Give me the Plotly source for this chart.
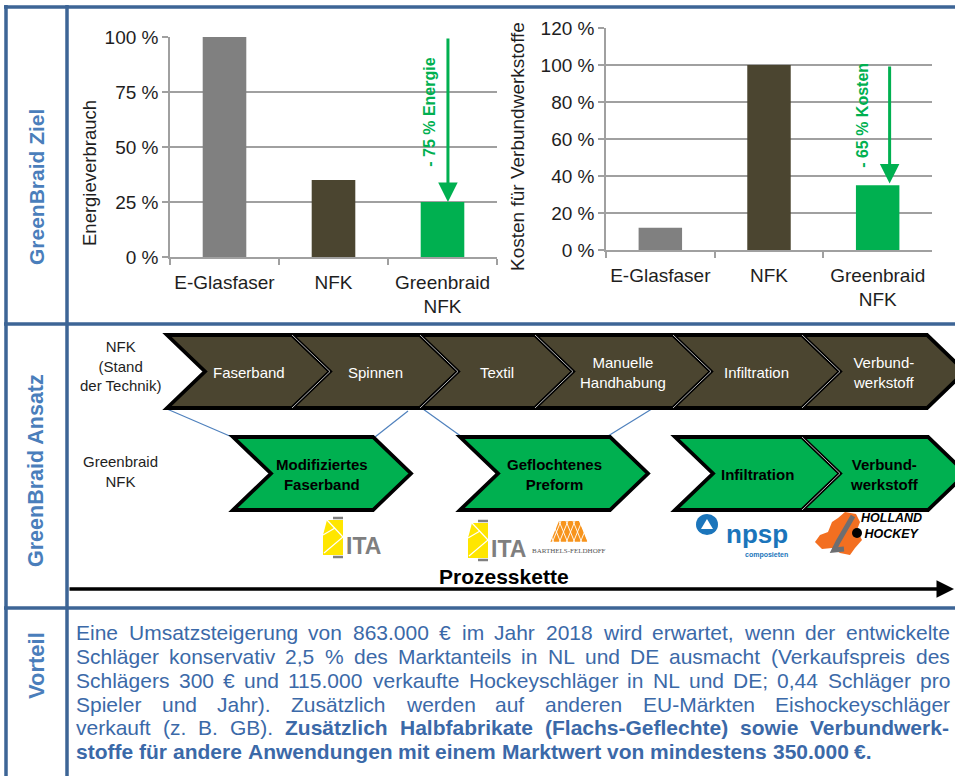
import plotly.graph_objects as go

W, H = 955, 776

# ---------------- data ----------------
categories = ["E-Glasfaser", "NFK", "Greenbraid<br>NFK"]
energy = [100, 35, 25]          # Energieverbrauch in %
cost = [12, 100, 35]            # Kosten für Verbundwerkstoffe in %
bar_colors = ["#808080", "#4B4530", "#00B050"]
energy_ticks = [0, 25, 50, 75, 100]
cost_ticks = [0, 20, 40, 60, 80, 100, 120]
energy_label = "- 75 % Energie"
cost_label = "- 65 % Kosten"

nfk_steps = ["Faserband", "Spinnen", "Textil", "Manuelle<br>Handhabung",
             "Infiltration", "Verbund-<br>werkstoff"]
gb_steps = ["Modifiziertes<br>Faserband", "Geflochtenes<br>Preform",
            "Infiltration", "Verbund-<br>werkstoff"]

section_titles = ["GreenBraid Ziel", "GreenBraid Ansatz", "Vorteil"]

body_lines = [
    ("Eine Umsatzsteigerung von 863.000 € im Jahr 2018 wird erwartet, wenn der entwickelte", ""),
    ("Schläger konservativ 2,5 % des Marktanteils in NL und DE ausmacht (Verkaufspreis des", ""),
    ("Schlägers 300 € und 115.000 verkaufte Hockeyschläger in NL und DE; 0,44 Schläger pro", ""),
    ("Spieler und Jahr). Zusätzlich werden auf anderen EU-Märkten Eishockeyschläger", ""),
    ("verkauft (z. B. GB).", "Zusätzlich Halbfabrikate (Flachs-Geflechte) sowie Verbundwerk-"),
    ("", "stoffe für andere Anwendungen mit einem Marktwert von mindestens 350.000 €."),
]

# ---------------- styles ----------------
FONT = "Liberation Sans, Arial, sans-serif"
GRID = "#A0A0A0"
GREEN = "#00B050"
DARK = "#4B4530"
FRAME = "#3D6596"
TITLE_BLUE = "#4A7EBB"
BODY_BLUE = "#3B69A8"
TXT = "#1E1E1E"


def px(x):
    return x / W


def py(y):
    return 1 - y / H


fig = go.Figure()
fig.add_trace(go.Bar(x=categories, y=energy, marker=dict(color=bar_colors, line=dict(width=0)),
                     width=0.4, xaxis="x", yaxis="y", showlegend=False, hoverinfo="skip"))
fig.add_trace(go.Bar(x=categories, y=cost, marker=dict(color=bar_colors, line=dict(width=0)),
                     width=0.4, xaxis="x2", yaxis="y2", showlegend=False, hoverinfo="skip"))

xcommon = dict(type="category", tickson="boundaries", ticks="outside", ticklen=6,
               tickcolor=GRID, tickwidth=1.5, showline=True, linecolor=GRID, linewidth=1.5,
               showgrid=False, tickfont=dict(size=19, color=TXT, family=FONT),
               fixedrange=True, tickangle=0, automargin=False, ticklabelstandoff=7)
ycommon = dict(showgrid=True, gridcolor=GRID, gridwidth=1.5,
               ticks="outside", ticklen=6, tickcolor=GRID, tickwidth=1.5,
               showline=True, linecolor=GRID, linewidth=1.5, zeroline=False,
               tickfont=dict(size=19, color=TXT, family=FONT), fixedrange=True,
               tickmode="array", automargin=False)

shapes = []
annotations = []


def ann(x, y, text, size, color, bold=False, ref="paper", **kw):
    d = dict(x=px(x) if ref == "paper" else x, y=py(y) if ref == "paper" else y,
             xref="paper" if ref == "paper" else ref[0],
             yref="paper" if ref == "paper" else ref[1],
             text=("<b>" + text + "</b>") if bold else text, showarrow=False,
             xanchor="center", yanchor="middle",
             font=dict(size=size, color=color, family=FONT))
    d.update(kw)
    annotations.append(d)


# ---------------- chart annotations ----------------
annotations.append(dict(x=2.05, y=energy[2], xref="x", yref="y", ax=2.05, ay=energy[0],
                        axref="x", ayref="y", showarrow=True, arrowhead=2, arrowsize=1.3,
                        arrowwidth=3, arrowcolor=GREEN, text=""))
ann(1.885, 66, energy_label, 16, GREEN, bold=True, ref=("x", "y"), textangle=-90)
annotations.append(dict(x=2.11, y=cost[2] + 1, xref="x2", yref="y2", ax=2.11, ay=cost[1],
                        axref="x2", ayref="y2", showarrow=True, arrowhead=2, arrowsize=1.3,
                        arrowwidth=3, arrowcolor=GREEN, text=""))
ann(1.864, 73, cost_label, 16, GREEN, bold=True, ref=("x2", "y2"), textangle=-90)
# axis titles
ann(89, 173, "Energieverbrauch", 18.5, TXT, textangle=-90)
ann(517, 147, "Kosten für Verbundwerkstoffe", 19, TXT, textangle=-90)


# ---------------- frame ----------------
def line(x0, y0, x1, y1, color, width):
    shapes.append(dict(type="line", xref="paper", yref="paper", x0=px(x0), y0=py(y0),
                       x1=px(x1), y1=py(y1), line=dict(color=color, width=width)))


line(4, 7, 955, 7, FRAME, 3.5)
line(6, 5, 6, 776, FRAME, 3.5)
line(67, 5, 67, 776, FRAME, 3.5)
line(4, 324, 955, 324, FRAME, 3.5)
line(4, 608, 955, 608, FRAME, 3.5)

title_pos = [(36, 187, 21), (36, 471, 21.5), (36, 666, 22)]
for t, (x, y, s) in zip(section_titles, title_pos):
    ann(x, y, t, s, TITLE_BLUE, bold=True, textangle=-90)

# ---------------- process chain ----------------
for (a, b, c, d) in [(167, 409, 232, 437), (408, 411, 375, 437), (423, 409, 462, 437),
                     (655, 407, 608, 436)]:
    line(a, b, c, d, "#4F81BD", 1.2)


def chev(L, R, yt, yb, d):
    ym = (yt + yb) / 2
    pts = [(L, yt), (R, yt), (R + d, ym), (R, yb), (L, yb), (L + d, ym)]
    return "M " + " L ".join(f"{px(x):.5f},{py(y):.5f}" for x, y in pts) + " Z"


def sep(R, yt, yb, d):
    ym = (yt + yb) / 2
    pts = [(R, yt), (R + d, ym), (R, yb)]
    return "M " + " L ".join(f"{px(x):.5f},{py(y):.5f}" for x, y in pts)


D = 38
top_edges = [167, 292, 420, 535, 673, 802, 927]
for i, name in enumerate(nfk_steps):
    L, R = top_edges[i], top_edges[i + 1]
    shapes.append(dict(type="path", xref="paper", yref="paper", path=chev(L, R, 335, 408, D),
                       fillcolor=DARK, line=dict(color="black", width=3.8)))
    ann((L + D + R) / 2, 372, name, 15, "white")
for R in top_edges[1:-1]:
    shapes.append(dict(type="path", xref="paper", yref="paper", path=sep(R, 335, 408, D),
                       line=dict(color="#E8E8E8", width=0.8)))

gb_edges = [(233, 373), (460, 610), (675, 802), (802, 928)]
for (L, R), name in zip(gb_edges, gb_steps):
    shapes.append(dict(type="path", xref="paper", yref="paper", path=chev(L, R, 437, 510, D),
                       fillcolor=GREEN, line=dict(color="black", width=3.8)))
    ann((L + D + R) / 2, 474, name, 15, "black", bold=True)
shapes.append(dict(type="path", xref="paper", yref="paper", path=sep(802, 437, 510, D),
                   line=dict(color="#E8E8E8", width=0.8)))

ann(121, 366, "NFK<br>(Stand<br>der Technik)", 15, TXT)
ann(121, 472, "Greenbraid<br>NFK", 15, TXT)


# ---------------- logos (simplified) ----------------
def poly(pts, fill=None, color=None, width=0):
    p = "M " + " L ".join(f"{px(x):.5f},{py(y):.5f}" for x, y in pts)
    if fill:
        p += " Z"
    shapes.append(dict(type="path", xref="paper", yref="paper", path=p,
                       fillcolor=fill if fill else "rgba(0,0,0,0)",
                       line=dict(color=color if color else "rgba(0,0,0,0)", width=width)))


def ita(x0, y0):
    poly([(x0 + 4, y0 + 3), (x0 + 20, y0 + 3), (x0 + 20, y0 + 38), (x0, y0 + 38), (x0, y0 + 18)],
         fill="#FFE600")
    poly([(x0 + 4, y0 + 3), (x0 + 20, y0 + 20), (x0 + 1, y0 + 36)], color="white", width=1.2)
    poly([(x0, y0 + 18), (x0 + 12, y0 + 11)], color="white", width=1.2)
    line(x0 + 10, y0 + 1, x0 + 20, y0 + 1, "#808080", 2.5)
    line(x0 + 10, y0 + 40, x0 + 20, y0 + 40, "#808080", 2.5)
    ann(x0 + 21, y0 + 29, "ITA", 23, "#7F7F7F", bold=True, xanchor="left")


ita(323, 517)
ita(468, 520)

# Barthels-Feldhoff
poly([(550, 543), (588, 543), (579, 521), (559, 521)], fill="#F7941D")
for k in range(6):
    xb = 552 + k * 7
    poly([(xb, 543), (xb + 9, 521)], color="white", width=0.9)
    poly([(xb + 2, 543), (xb - 7, 521)], color="white", width=0.9)
poly([(548, 543), (590, 543), (580, 519), (558, 519)], fill=None, color="white", width=2.5)
annotations.append(dict(x=px(569), y=py(551), xref="paper", yref="paper", xanchor="center",
                        yanchor="middle", text="BARTHELS-FELDHOFF", showarrow=False,
                        font=dict(size=7, color="#555555", family="Liberation Serif, serif")))

# npsp
shapes.append(dict(type="circle", xref="paper", yref="paper", x0=px(696), x1=px(718),
                   y0=py(535), y1=py(514), fillcolor="#1B75BB", line=dict(width=0)))
poly([(707, 519), (713, 529), (701, 529)], fill="white")
ann(757, 534, "npsp", 26, "#1B75BB", bold=True)
ann(766, 555, "composieten", 7, "#1B75BB", bold=True)

# Holland Hockey
poly([(845, 512), (856, 514), (860, 522), (857, 530), (862, 540), (855, 548), (850, 555),
      (840, 553), (832, 548), (822, 549), (815, 542), (820, 535), (828, 532), (832, 522),
      (838, 518)], fill="#F36F21")
poly([(853, 516), (838, 542), (834, 550), (844, 549)], color="#6D6E71", width=5)
shapes.append(dict(type="circle", xref="paper", yref="paper", x0=px(852), x1=px(862),
                   y0=py(538), y1=py(528), fillcolor="black", line=dict(width=0)))
ann(859, 526, "<i>HOLLAND<br> HOCKEY</i>", 12.5, "black", bold=True, xanchor="left", align="left")

# Prozesskette
ann(504, 576, "Prozesskette", 21, "black", bold=True)
annotations.append(dict(x=px(954), y=py(589), xref="paper", yref="paper", ax=-(954 - 68), ay=0,
                        axref="pixel", ayref="pixel", text="", showarrow=True, arrowhead=2,
                        arrowsize=1, arrowwidth=3.5, arrowcolor="black"))

# ---------------- body text (justified) ----------------
REG = {}
BLD = {}
for chars, w in [(" ,.:;!/ftI", 278), ("ijl", 222), ("-()r", 333), ("ckszvxyJ", 500),
                 ("0123456789abdeghnopquäöü€L", 556), ("FTZ", 611), ("ABEKPSVXY", 667),
                 ("CDHNRUw", 722), ("GOQ", 778), ("mM", 833), ("%", 889), ("W", 944)]:
    for c in chars:
        REG[c] = w
for chars, w in [(" ,.:;!Iijl", 278), ("-()ft", 333), ("r", 389), ("z", 500),
                 ("0123456789acesxyvk€äJ", 556), ("bdghnopquüöFLTZ", 611), ("EPSVXY", 667),
                 ("ABCDHKNRU", 722), ("GOQw", 778), ("M", 833), ("m%", 889), ("W", 944)]:
    for c in chars:
        BLD[c] = w


def tw(s, bold, size):
    d = BLD if bold else REG
    return sum(d.get(c, 556) for c in s) / 1000 * size


FS = 21
X0, X1 = 75, 949
line_y = [632, 656, 680, 704, 727.5, 751]
for li, ((reg, bld), yc) in enumerate(zip(body_lines, line_y)):
    words = [(w, False) for w in reg.split()] + [(w, True) for w in bld.split()]
    widths = [tw(w, b, FS) for w, b in words]
    last = li == len(body_lines) - 1
    if last or len(words) < 2:
        gap = tw(" ", True, FS)
    else:
        gap = (X1 - X0 - sum(widths)) / (len(words) - 1)
    x = X0
    for (w, b), wd in zip(words, widths):
        ann(x, yc, w, FS, BODY_BLUE, bold=b, xanchor="left", borderpad=0)
        x += wd + gap

fig.update_layout(
    width=W, height=H, autosize=False,
    margin=dict(l=0, r=0, t=0, b=0, pad=0, autoexpand=False),
    paper_bgcolor="white", plot_bgcolor="white",
    font=dict(family=FONT, color=TXT),
    showlegend=False,
    xaxis=dict(domain=[px(170), px(497)], anchor="y", **xcommon),
    yaxis=dict(domain=[py(257), py(37)], anchor="x", range=[0, 100], tickvals=energy_ticks,
               ticktext=[f"{v} %" for v in energy_ticks], **ycommon),
    xaxis2=dict(domain=[px(606), px(932)], anchor="y2", **xcommon),
    yaxis2=dict(domain=[py(250), py(28)], anchor="x2", range=[0, 120], tickvals=cost_ticks,
                ticktext=[f"{v} %" for v in cost_ticks], **ycommon),
    shapes=shapes,
    annotations=annotations,
)

fig.write_html("out.html")
